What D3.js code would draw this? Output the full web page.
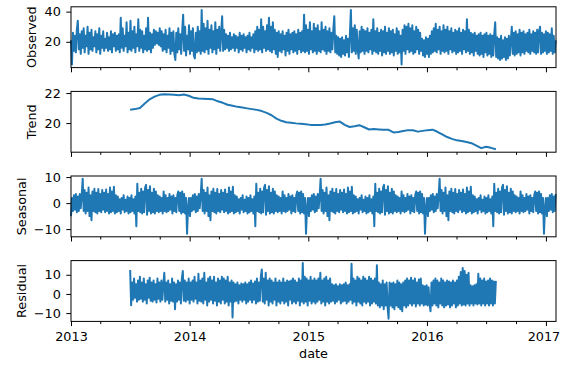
<!DOCTYPE html>
<html>
<head>
<meta charset="utf-8">
<script src="https://cdn.jsdelivr.net/npm/d3@7"></script>
<style>
  body { margin: 0; background: #fff; }
  svg { display: block; font-family: "DejaVu Sans", sans-serif; }
</style>
</head>
<body>
<svg width="561" height="368"></svg>
<script>
var stepDays = 3;
var observedStart = "2013-01-01";
var observed = [
  21, 5, 26, 14, 24, 13, 28, 34, 15, 25, 12, 27,
  16, 29, 13, 24, 17, 30, 12, 26, 15, 28, 14, 23,
  17, 27, 13, 25, 15, 29, 12, 24, 16, 27, 14, 22,
  16, 26, 14, 23, 15, 27, 13, 25, 17, 26, 14, 24,
  15, 25, 13, 36, 16, 29, 14, 24, 17, 33, 13, 26,
  15, 34, 14, 27, 16, 30, 13, 25, 17, 35, 14, 28,
  16, 27, 13, 24, 15, 29, 14, 36, 15, 26, 13, 25,
  16, 28, 18, 27, 19, 26, 18, 29, 17, 27, 14, 25,
  15, 28, 13, 24, 16, 29, 12, 26, 14, 27, 12, 8,
  26, 13, 29, 15, 25, 12, 27, 38, 14, 30, 11, 24,
  15, 31, 12, 27, 14, 29, 11, 9, 26, 13, 30, 14,
  27, 12, 41, 14, 32, 13, 29, 15, 34, 12, 28, 16,
  31, 13, 27, 15, 33, 12, 28, 16, 30, 14, 26, 37,
  14, 28, 15, 25, 16, 24, 14, 26, 15, 23, 16, 25,
  14, 24, 16, 23, 13, 26, 15, 24, 14, 25, 16, 23,
  13, 24, 15, 26, 14, 23, 16, 25, 13, 27, 15, 30,
  14, 28, 15, 35, 13, 30, 16, 27, 14, 31, 15, 36,
  14, 30, 13, 33, 15, 28, 12, 26, 10, 27, 14, 25,
  13, 27, 15, 24, 11, 26, 14, 28, 12, 25, 15, 26,
  13, 27, 14, 25, 12, 28, 15, 26, 13, 27, 14, 38,
  13, 31, 14, 28, 12, 33, 15, 27, 13, 32, 14, 29,
  12, 31, 14, 27, 13, 33, 15, 28, 14, 30, 12, 27,
  14, 29, 13, 26, 15, 28, 37, 13, 24, 12, 23, 11,
  22, 10, 23, 12, 21, 11, 24, 13, 22, 10, 25, 41,
  13, 29, 14, 31, 12, 28, 15, 9, 27, 13, 30, 14,
  28, 12, 27, 14, 29, 13, 26, 15, 28, 12, 35, 14,
  27, 13, 29, 12, 26, 14, 28, 11, 27, 13, 30, 12,
  26, 14, 29, 12, 27, 13, 28, 11, 25, 14, 29, 12,
  27, 13, 24, 5, 28, 14, 31, 12, 30, 15, 32, 13,
  29, 14, 31, 12, 27, 13, 30, 15, 28, 12, 26, 14,
  22, 11, 21, 10, 23, 12, 22, 10, 24, 12, 27, 13,
  29, 14, 32, 13, 28, 15, 30, 12, 27, 14, 31, 13,
  28, 14, 30, 12, 27, 15, 29, 13, 26, 14, 28, 12,
  27, 13, 29, 14, 26, 12, 28, 15, 27, 13, 35, 14,
  28, 12, 26, 13, 25, 11, 26, 14, 24, 12, 25, 11,
  26, 12, 24, 10, 25, 13, 26, 11, 24, 12, 25, 10,
  24, 11, 25, 33, 10, 23, 9, 22, 8, 24, 9, 21,
  10, 23, 8, 22, 9, 24, 11, 21, 30, 12, 26, 11,
  27, 12, 25, 13, 28, 11, 26, 13, 27, 12, 25, 14,
  26, 13, 28, 12, 25, 14, 27, 13, 26, 12, 28, 13,
  27, 30, 12, 26, 13, 25, 14, 27, 12, 26, 13, 25,
  14, 29, 12, 24, 13, 21
];

// trend, every 15th day
var trendStart = "2013-07-02";
var trendStep = 15;
var trend = [
  20.89, 20.93, 21.0, 21.3, 21.58, 21.76, 21.88, 21.92, 21.9, 21.88,
  21.86, 21.9, 21.82, 21.68, 21.63, 21.62, 21.6, 21.58, 21.45, 21.35,
  21.22, 21.15, 21.08, 21.03, 20.98, 20.93, 20.88, 20.8, 20.68, 20.52,
  20.3, 20.15, 20.06, 20.02, 19.98, 19.95, 19.92, 19.88, 19.87, 19.88,
  19.9, 19.97, 20.05, 20.1, 19.88, 19.74, 19.79, 19.86, 19.72, 19.57,
  19.6, 19.58, 19.56, 19.55, 19.38, 19.4, 19.47, 19.53, 19.52, 19.43,
  19.48, 19.53, 19.56, 19.42, 19.25, 19.07, 18.95, 18.85, 18.8, 18.74,
  18.66, 18.5, 18.33, 18.42, 18.35, 18.26
];

// seasonal, every 3rd day from observedStart (same yearly shape each year)
var seasonal = [
  -5, 2, -3, 3, -2.5, 3.5, -3.5, 2.5, -3, 3.5, -2, 3,
  9.4, -3, 5, -4, 4, -3, 6, -5, 3, -6.6, 4.5, -3,
  5.5, -3.5, 4, -4, 5.4, -3, 3.5, -3.5, 5, -2.5, 4, -3.5,
  5.2, -3, 3.5, -4, 6, -3.5, 4.5, -3, 6.3, -4, 3, -3.5,
  2.5, -3, 1.5, -4, 2, -2.5, 3, -3.5, 1.3, -3, 2.5, -4,
  2, -3.5, 3, -3, 1.5, -4, 2.5, -8.9, 7.4, -3, 4, -3.5,
  5.5, -4, 4.5, -3.5, 6, 7, -4.5, 5, -3, 6.5, -4, 4,
  -3.5, 5.5, -4, 4.5, -3, 3, -3.5, 2.5, -3, 2, -4, 4.5,
  -3, 3, -3.5, 2, -3, 3.5, -2.5, 2.5, -4, 3, -3, 2,
  -3.5, 3, 4.5, -3, 4, -4, 4.5, -3.5, 3.5, -4, 2, -11.8,
  -2, 2,
  -5, 2, -3, 3, -2.5, 3.5, -3.5, 2.5, -3, 3.5, -2, 3,
  9.4, -3, 5, -4, 4, -3, 6, -5, 3, -6.6, 4.5, -3,
  5.5, -3.5, 4, -4, 5.4, -3, 3.5, -3.5, 5, -2.5, 4, -3.5,
  5.2, -3, 3.5, -4, 6, -3.5, 4.5, -3, 6.3, -4, 3, -3.5,
  2.5, -3, 1.5, -4, 2, -2.5, 3, -3.5, 1.3, -3, 2.5, -4,
  2, -3.5, 3, -3, 1.5, -4, 2.5, -8.9, 7.4, -3, 4, -3.5,
  5.5, -4, 4.5, -3.5, 6, 7, -4.5, 5, -3, 6.5, -4, 4,
  -3.5, 5.5, -4, 4.5, -3, 3, -3.5, 2.5, -3, 2, -4, 4.5,
  -3, 3, -3.5, 2, -3, 3.5, -2.5, 2.5, -4, 3, -3, 2,
  -3.5, 3, 4.5, -3, 4, -4, 4.5, -3.5, 3.5, -4, 2, -11.8,
  -2, 2,
  -5, 2, -3, 3, -2.5, 3.5, -3.5, 2.5, -3, 3.5, -2, 3,
  9.4, -3, 5, -4, 4, -3, 6, -5, 3, -6.6, 4.5, -3,
  5.5, -3.5, 4, -4, 5.4, -3, 3.5, -3.5, 5, -2.5, 4, -3.5,
  5.2, -3, 3.5, -4, 6, -3.5, 4.5, -3, 6.3, -4, 3, -3.5,
  2.5, -3, 1.5, -4, 2, -2.5, 3, -3.5, 1.3, -3, 2.5, -4,
  2, -3.5, 3, -3, 1.5, -4, 2.5, -8.9, 7.4, -3, 4, -3.5,
  5.5, -4, 4.5, -3.5, 6, 7, -4.5, 5, -3, 6.5, -4, 4,
  -3.5, 5.5, -4, 4.5, -3, 3, -3.5, 2.5, -3, 2, -4, 4.5,
  -3, 3, -3.5, 2, -3, 3.5, -2.5, 2.5, -4, 3, -3, 2,
  -3.5, 3, 4.5, -3, 4, -4, 4.5, -3.5, 3.5, -4, 2, -11.8,
  -2, 2,
  -5, 2, -3, 3, -2.5, 3.5, -3.5, 2.5, -3, 3.5, -2, 3,
  9.4, -3, 5, -4, 4, -3, 6, -5, 3, -6.6, 4.5, -3,
  5.5, -3.5, 4, -4, 5.4, -3, 3.5, -3.5, 5, -2.5, 4, -3.5,
  5.2, -3, 3.5, -4, 6, -3.5, 4.5, -3, 6.3, -4, 3, -3.5,
  2.5, -3, 1.5, -4, 2, -2.5, 3, -3.5, 1.3, -3, 2.5, -4,
  2, -3.5, 3, -3, 1.5, -4, 2.5, -8.9, 7.4, -3, 4, -3.5,
  5.5, -4, 4.5, -3.5, 6, 7, -4.5, 5, -3, 6.5, -4, 4,
  -3.5, 5.5, -4, 4.5, -3, 3, -3.5, 2.5, -3, 2, -4, 4.5,
  -3, 3, -3.5, 2, -3, 3.5, -2.5, 2.5, -4, 3, -3, 2,
  -3.5, 3, 4.5, -3, 4, -4, 4.5, -3.5, 3.5, -4, 2, -11.8,
  -2, 2,
  -5, 2, -3, 3, -2.5, 3.5, -3.5, 2.5, -3, 3.5
];

// residual, every 3rd day
var residualStart = "2013-07-02";
var residual = [
  12.5, -5.9, 6, -3, 8, -2, 5, -4, 7, -3, 9, -2.5,
  6, -4, 8, -3, 5, -5, 7, -2, 8.5, -3.5, 6, -4,
  7, -3, 5, -4.5, 8, -2.5, 6, -4, 7, -3, 5, 11,
  -4, 6, -3, 7, -5, 5, -3.5, 8, -4, 6, -8, 5,
  -4, 7, -3, 6, -5, 8, 12, -3.5, 7, -4, 6, -3,
  8, -5, 6, -3, 7, -4, 9, -2.5, 6, -5, 10.5, -3.5,
  7, -4, 8, -5, 11, -3, 6, -6, 8, -4, 9, -3,
  7, -5, 9, -3.5, 6, -6, 8, -4, 7, -5, 9, -3,
  8, -5, 7, -4, 9, -6, 6, -4, 7, -12.3, 6, -4,
  5, -3.5, 6, -5, 4.5, -3, 5.5, -4, 5, -3, 6, -5,
  5, -4, 6, -3, 7, -4.5, 5.5, -3, 6.5, -5, 8, -4,
  6, -3.5, 9, 12.8, -4, 8, -5, 11, -3, 7, -6, 8,
  -4, 7, -5, 6, -3, 8, -6, 6, -4, 7, -5, 6,
  -3.5, 8, -5, 6, -4, 7, -6, 6.5, -3, 7, -5, 8,
  -4, 7, -5, 6, -3.5, 8, -6, 7, -4, 16.1, -5, 9,
  -4, 8, -6, 7, -3.5, 9, -5, 7, -4, 8, -5, 7,
  -4, 8, -3, 11, -5, 7, -4, 8, -6, 9, -4, 7,
  -5, 8, -4, 5, -3.5, 4.5, -5, 5, -4, 4, -3, 5,
  -5, 4.5, -4, 5, -3.5, 6, -5, 4.5, -4, 5, -3, 15.8,
  -5, 8, -4, 7, -6, 9, -4, 8, -5, 7, -6, 9,
  -4, 8, -5, 7, -4, 9, -6, 8, -5, 7, -4, 8,
  -5, 15, -6, 6, -7, 5, -6, 7, -8, 5, -6, 6,
  -7, -12.9, 6, -6, 5.5, -7, 6, -8, 5, -6, 7, -7,
  6, -8, 5, -9, 6, -6, 7, -7, 8, -6, 7, -5,
  8.5, -6, 7, -5, 8, -6.5, 6, -5, 7.5, -6, 8, -5,
  4.5, -6, 4, -5.5, 4.5, -6, 3.5, -5, -9, 6, -6, 7,
  -5, 8, -6, 7, -7, 6, -5, 8, -6, 7, -7, 6,
  -6, 7, -5.5, 6.5, -7, 6, -6, 7, -5, 6, -7, 7,
  -6, 9, -5, 11.5, -6, 13.5, -5.5, 12, -6, 10, -5, 11,
  -6, 4.5, -5, 4, -6, 4.5, -5, 5, -5.5, 10.5, -5, 8,
  -6, 7, -5, 8, -6, 6.5, -5, 7, -6, 8, -5, 7,
  -6, 6.5, -5, 6.8
];

var yearTicks = ["2013-01-01", "2014-01-01", "2015-01-01", "2016-01-01", "2017-01-01"];

function series(start, step, values) {
  var t0 = new Date(start + "T00:00:00Z");
  return values.map(function(v, i) { return {date: d3.utcDay.offset(t0, i * step), value: v}; });
}

var panels = [
  {label: "Observed", data: series(observedStart, stepDays, observed), domain: [2.9, 43.2], ticks: [20, 40], labelX: 36},
  {label: "Trend", data: series(trendStart, trendStep, trend), domain: [18.06, 22.11], ticks: [20, 22], labelX: 36},
  {label: "Seasonal", data: series(observedStart, stepDays, seasonal), domain: [-12.96, 10.42], ticks: [-10, 0, 10], labelX: 26},
  {label: "Residual", data: series(residualStart, stepDays, residual), domain: [-14.33, 17.4], ticks: [-10, 0, 10], labelX: 26}
];

var svg = d3.select("svg"),
    left = 71, right = 556,
    tops = [6.8, 91.4, 176, 260.6],
    ph = 60.8,
    fs = 12.8;

var x = d3.scaleUtc()
    .domain([new Date("2013-01-01T00:00:00Z"), new Date("2017-02-01T00:00:00Z")])
    .range([left, right]);

var majors = yearTicks.map(function(s) { return new Date(s + "T00:00:00Z"); });
var minors = d3.utcMonth.every(3).range(x.domain()[0], x.domain()[1])
    .filter(function(d) { return d.getUTCMonth() !== 0; });

panels.forEach(function(p, i) {
  var top = tops[i], bottom = top + ph;
  var y = d3.scaleLinear().domain(p.domain).range([bottom, top]);
  var g = svg.append("g");

  var line = d3.line()
      .x(function(d) { return x(d.date); })
      .y(function(d) { return y(d.value); });

  g.append("path")
      .datum(p.data)
      .attr("fill", "none")
      .attr("stroke", "#1f77b4")
      .attr("stroke-width", 2)
      .attr("stroke-linejoin", "round")
      .attr("d", line);

  // y axis
  var ya = g.append("g")
      .attr("transform", "translate(" + left + ",0)")
      .call(d3.axisLeft(y).tickValues(p.ticks).tickSize(4.7).tickPadding(5.5).tickFormat(d3.format("d")));
  ya.select(".domain").remove();
  ya.selectAll("text").attr("font-size", fs).attr("fill", "#000").attr("font-family", "DejaVu Sans");
  ya.selectAll("line").attr("stroke", "#000").attr("stroke-width", 1);

  // x ticks, labels only on the bottom panel
  var xa = g.append("g")
      .attr("transform", "translate(0," + bottom + ")")
      .call(d3.axisBottom(x).tickValues(majors).tickSize(4.7).tickPadding(5.5)
        .tickFormat(i === 3 ? d3.utcFormat("%Y") : function() { return ""; }));
  xa.select(".domain").remove();
  xa.selectAll("text").attr("font-size", fs).attr("fill", "#000").attr("font-family", "DejaVu Sans");
  xa.selectAll("line").attr("stroke", "#000").attr("stroke-width", 1);
  if (i === 3) xa.selectAll("text").filter(function(d, j) { return j === majors.length - 1; }).attr("x", -2.5);

  var xm = g.append("g")
      .attr("transform", "translate(0," + bottom + ")")
      .call(d3.axisBottom(x).tickValues(minors).tickSize(2.7).tickFormat(function() { return ""; }));
  xm.select(".domain").remove();
  xm.selectAll("line").attr("stroke", "#000").attr("stroke-width", 1);

  // frame
  g.append("rect")
      .attr("x", left).attr("y", top)
      .attr("width", right - left).attr("height", ph)
      .attr("fill", "none").attr("stroke", "#000").attr("stroke-width", 1);

  svg.append("text")
      .attr("transform", "translate(" + p.labelX + "," + (top + ph / 2) + ") rotate(-90)")
      .attr("text-anchor", "middle")
      .attr("font-size", fs)
      .attr("fill", "#000")
      .text(p.label);
});

svg.append("text")
    .attr("x", (left + right) / 2)
    .attr("y", 358)
    .attr("text-anchor", "middle")
    .attr("font-size", fs)
    .attr("fill", "#000")
    .text("date");
</script>
</body>
</html>
